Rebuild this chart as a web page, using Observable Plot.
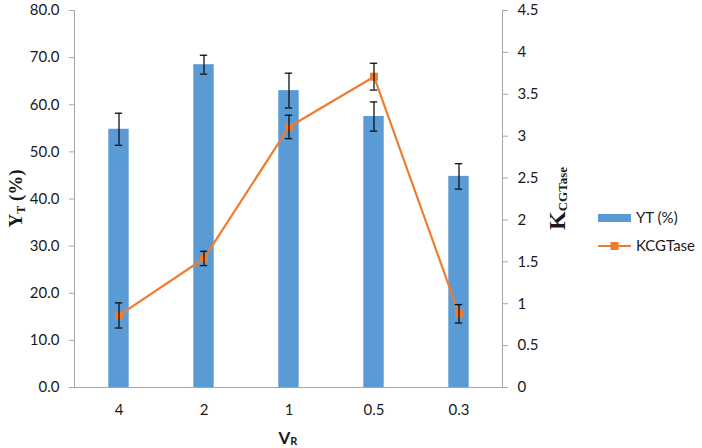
<!DOCTYPE html>
<html>
<head>
<meta charset="utf-8">
<script src="https://cdn.jsdelivr.net/npm/d3@7"></script>
<script src="https://cdn.jsdelivr.net/npm/@observablehq/plot@0.6"></script>
<style>
  html, body { margin: 0; padding: 0; background: #fff; }
  #chart { position: relative; width: 702px; height: 448px; }
</style>
</head>
<body>
<div id="chart"></div>
<script>
const categories = ["4", "2", "1", "0.5", "0.3"];
const ytValues = [54.8, 68.5, 63.0, 57.5, 44.8];
const ytErrors = [3.4, 2.0, 3.7, 3.1, 2.7];
const kValues = [0.86, 1.54, 3.11, 3.71, 0.88];
const kErrors = [0.15, 0.085, 0.14, 0.16, 0.11];
const yTicks = [0, 10, 20, 30, 40, 50, 60, 70, 80];
const kTicks = [0, 0.5, 1, 1.5, 2, 2.5, 3, 3.5, 4, 4.5];

const yMax = 80, kMax = 4.5;
const kf = yMax / kMax;

const data = categories.map((c, i) => ({
  cat: c, yt: ytValues[i], ytErr: ytErrors[i], k: kValues[i], kErr: kErrors[i]
}));

const W = 702, H = 448;
const mL = 74, mR = 200, mT = 10, mB = 61;
const band = (W - mL - mR) / categories.length;
const barW = 21, capW = 8;
const barInset = (band - barW) / 2;
const capInset = (band - capW) / 2;

const axisColor = "#a6a6a6";
const textColor = "#1a1a1a";
const sans = "Lato, 'Open Sans', sans-serif";

const plot = Plot.plot({
  width: W, height: H,
  marginLeft: mL, marginRight: mR, marginTop: mT, marginBottom: mB,
  style: { fontFamily: sans, fontSize: "15px", color: textColor, background: "#fff" },
  x: { domain: categories, padding: 0, label: null },
  y: { domain: [0, yMax], label: null },
  marks: [
    Plot.barY(data, { x: "cat", y: "yt", fill: "#5B9BD5", insetLeft: barInset, insetRight: barInset }),
    Plot.ruleX(data, { x: "cat", y1: d => d.yt - d.ytErr, y2: d => d.yt + d.ytErr, stroke: "#111", strokeWidth: 1.3 }),
    Plot.tickY(data, { x: "cat", y: d => d.yt - d.ytErr, stroke: "#111", strokeWidth: 1.3, insetLeft: capInset, insetRight: capInset }),
    Plot.tickY(data, { x: "cat", y: d => d.yt + d.ytErr, stroke: "#111", strokeWidth: 1.3, insetLeft: capInset, insetRight: capInset }),
    Plot.line(data, { x: "cat", y: d => d.k * kf, stroke: "#ED7D31", strokeWidth: 2.2 }),
    Plot.dot(data, { x: "cat", y: d => d.k * kf, symbol: "square", fill: "#ED7D31", r: 4.5 }),
    Plot.ruleX(data, { x: "cat", y1: d => (d.k - d.kErr) * kf, y2: d => (d.k + d.kErr) * kf, stroke: "#111", strokeWidth: 1.3 }),
    Plot.tickY(data, { x: "cat", y: d => (d.k - d.kErr) * kf, stroke: "#111", strokeWidth: 1.3, insetLeft: capInset, insetRight: capInset }),
    Plot.tickY(data, { x: "cat", y: d => (d.k + d.kErr) * kf, stroke: "#111", strokeWidth: 1.3, insetLeft: capInset, insetRight: capInset }),
    Plot.frame({ anchor: "left", stroke: axisColor }),
    Plot.frame({ anchor: "right", stroke: axisColor }),
    Plot.frame({ anchor: "bottom", stroke: axisColor }),
    Plot.axisX({ tickSize: 0, tickPadding: 17, label: null, fill: textColor }),
    Plot.axisY({ ticks: yTicks, tickFormat: d => d.toFixed(1), tickSize: 5, tickPadding: 10, stroke: axisColor, label: null, fill: textColor }),
    Plot.axisY(kTicks.map(k => k * kf), { anchor: "right", tickFormat: d => String(+(d / kf).toFixed(2)), tickSize: 5, tickPadding: 10, stroke: axisColor, label: null, fill: textColor })
  ]
});

document.getElementById("chart").appendChild(plot);

// Axis titles and legend added as SVG text
const svg = d3.select(plot);
const serif = "'Liberation Serif', 'DejaVu Serif', serif";

// Left axis title: Y_T (%)
const lt = svg.append("text")
  .attr("transform", `translate(22, ${mT + (H - mT - mB) / 2}) rotate(-90)`)
  .attr("text-anchor", "middle")
  .attr("font-family", serif).attr("font-weight", "bold").attr("font-size", 19).attr("fill", textColor);
lt.append("tspan").text("Y");
lt.append("tspan").attr("font-size", 12).attr("dy", 3).text("T");
lt.append("tspan").attr("dy", -3).text(" (%)");

// Right axis title: K_CGTase
const rt = svg.append("text")
  .attr("transform", `translate(565, ${mT + (H - mT - mB) / 2}) rotate(-90)`)
  .attr("text-anchor", "middle")
  .attr("font-family", serif).attr("font-weight", "bold").attr("font-size", 24).attr("fill", textColor);
rt.append("tspan").text("K");
rt.append("tspan").attr("font-size", 13).attr("dy", 2).text("CGTase");

// X axis title: V_R
const xt = svg.append("text")
  .attr("x", mL + 2.5 * band).attr("y", 444)
  .attr("text-anchor", "middle")
  .attr("font-family", sans).attr("font-weight", "bold").attr("font-size", 17).attr("fill", textColor);
xt.append("tspan").text("V");
xt.append("tspan").attr("font-size", 11).attr("dy", 1).text("R");

// Legend
const lg = svg.append("g").attr("font-family", sans).attr("font-size", 15).attr("fill", textColor).attr("text-anchor", "start");
lg.append("rect").attr("x", 598).attr("y", 214).attr("width", 33).attr("height", 8).attr("fill", "#5B9BD5");
lg.append("text").attr("x", 636).attr("y", 218).attr("dy", "0.35em").text("YT (%)");
lg.append("line").attr("x1", 598).attr("x2", 631).attr("y1", 246).attr("y2", 246).attr("stroke", "#ED7D31").attr("stroke-width", 2.2);
lg.append("rect").attr("x", 610.5).attr("y", 242).attr("width", 8).attr("height", 8).attr("fill", "#ED7D31");
lg.append("text").attr("x", 636).attr("y", 246).attr("dy", "0.35em").text("KCGTase");
</script>
</body>
</html>
